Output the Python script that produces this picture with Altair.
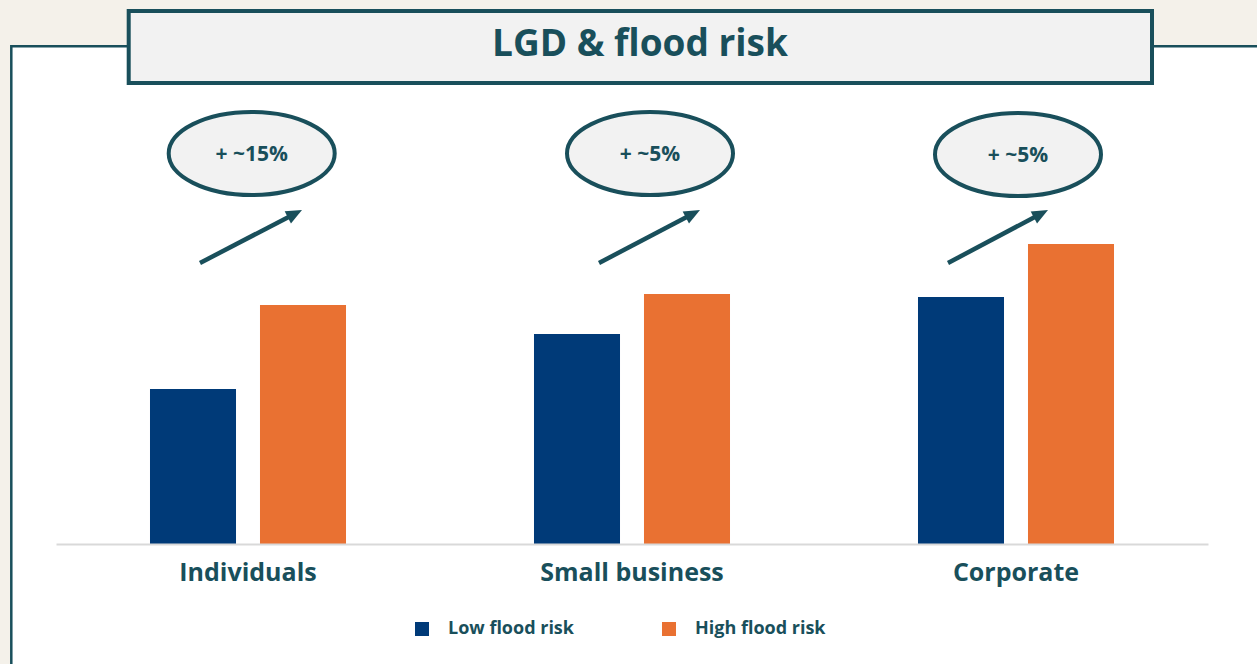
import altair as alt
import pandas as pd
import math

# ---------------- data ----------------
segments = ["Individuals", "Small business", "Corporate"]
series = ["Low flood risk", "High flood risk"]
low_values = [15.5, 21.0, 24.7]     # arbitrary LGD index units
high_values = [23.9, 25.0, 30.0]
uplift_labels = ["+ ~15%", "+ ~5%", "+ ~5%"]
title_text = "LGD & flood risk"

rows = []
for s, lo, hi in zip(segments, low_values, high_values):
    rows.append({"segment": s, "series": series[0], "value": lo})
    rows.append({"segment": s, "series": series[1], "value": hi})
df = pd.DataFrame(rows)

# ---------------- style / layout ----------------
TEAL = "#194f5b"
BLUE = "#003a78"
ORANGE = "#e97132"
CREAM = "#f4f1ea"
BOXFILL = "#f2f2f2"
FONT = "Open Sans"

one = pd.DataFrame({"d": [0]})

panel = alt.Chart(one).mark_rect(fill="white", stroke=TEAL, strokeWidth=2.5).encode(
    x=alt.value(11.3), x2=alt.value(1320), y=alt.value(46.3), y2=alt.value(720)
)
title_box = alt.Chart(one).mark_rect(fill=BOXFILL, stroke=TEAL, strokeWidth=4).encode(
    x=alt.value(128.7), x2=alt.value(1152), y=alt.value(11), y2=alt.value(83)
)
title = alt.Chart(one).mark_text(
    text=title_text, font=FONT, fontSize=37, fontWeight="bold", color=TEAL,
    align="center", baseline="middle"
).encode(x=alt.value(640), y=alt.value(45))

# ellipse annotation layout: (cx, cy) ellipse centre; arrow start and tip
ellipse_pos = [(251.7, 153.5), (650, 153.5), (1018, 154.5)]
arrow_pos = [((200, 263), (302, 210)), ((599, 263), (700, 210)), ((948, 263), (1048, 210))]

k = 0.5523
b = 0.5
ellipse_path = (
    f"M -1 0 C -1 {-b*k} {-k} {-b} 0 {-b} "
    f"C {k} {-b} 1 {-b*k} 1 0 "
    f"C 1 {b*k} {k} {b} 0 {b} "
    f"C {-k} {b} -1 {b*k} -1 0 Z"
)
head_path = "M 1 0 L -1 -0.85 L -1 0.85 Z"

annot_layers = []
for (cx, cy), label, ((x0, y0), (x1, y1)) in zip(ellipse_pos, uplift_labels, arrow_pos):
    annot_layers.append(
        alt.Chart(one).mark_point(
            shape=ellipse_path, size=166 * 166, filled=True, fill=BOXFILL, stroke=TEAL,
            strokeWidth=4, opacity=1, fillOpacity=1, strokeOpacity=1
        ).encode(x=alt.value(cx), y=alt.value(cy))
    )
    annot_layers.append(
        alt.Chart(one).mark_text(
            text=label, font=FONT, fontSize=21, fontWeight="bold", color=TEAL,
            align="center", baseline="middle"
        ).encode(x=alt.value(cx), y=alt.value(cy + 1))
    )
    dx, dy = x1 - x0, y1 - y0
    n = math.hypot(dx, dy)
    ux, uy = dx / n, dy / n
    hx, hy = x1 - 8 * ux, y1 - 8 * uy
    ang = math.degrees(math.atan2(dy, dx)) % 360
    annot_layers.append(
        alt.Chart(one).mark_rule(color=TEAL, strokeWidth=4.5).encode(
            x=alt.value(x0), y=alt.value(y0), x2=alt.value(hx), y2=alt.value(hy)
        )
    )
    annot_layers.append(
        alt.Chart(one).mark_point(
            shape=head_path, size=256, filled=True, fill=TEAL, strokeWidth=0,
            opacity=1, angle=ang
        ).encode(x=alt.value(hx), y=alt.value(hy))
    )

bars = alt.Chart(df).mark_bar(opacity=1).encode(
    x=alt.X(
        "segment:N", sort=segments,
        scale=alt.Scale(range=[56, 1208], paddingInner=0, paddingOuter=0),
        axis=alt.Axis(
            title=None, ticks=False, domainColor="#d9d9d9", domainWidth=2,
            labelFont=FONT, labelFontSize=25, labelFontWeight="bold", labelColor=TEAL,
            labelPadding=16, labelAngle=0, labelLimit=0, zindex=1
        ),
    ),
    xOffset=alt.XOffset(
        "series:N", sort=series,
        scale=alt.Scale(domain=series, paddingInner=0.218, paddingOuter=0.8545),
    ),
    y=alt.Y("value:Q", scale=alt.Scale(domain=[0, 54.4]), axis=None),
    color=alt.Color(
        "series:N", sort=series,
        scale=alt.Scale(domain=series, range=[BLUE, ORANGE]),
        legend=alt.Legend(
            title=None, orient="none", legendX=413, legendY=620, direction="horizontal",
            symbolType="square", symbolSize=196, symbolStrokeWidth=0, symbolOpacity=1,
            labelFont=FONT, labelFontSize=18, labelFontWeight="bold", labelColor=TEAL,
            labelOffset=17, labelLimit=0, columnPadding=86, padding=0, zindex=1
        ),
    ),
)

chart = alt.layer(panel, title_box, title, *annot_layers, bars).properties(
    width=1257, height=544,
    autosize=alt.AutoSizeParams(type="none"),
    padding={"left": 0, "top": 0, "right": 0, "bottom": 120},
).configure(background=CREAM).configure_view(stroke=None)

chart.save("out.html", embed_options={"renderer": "svg", "actions": False})
